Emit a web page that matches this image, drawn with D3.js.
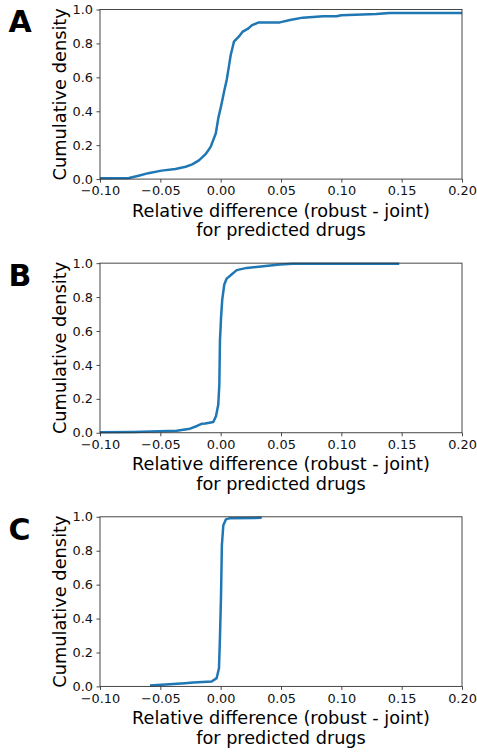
<!DOCTYPE html>
<html>
<head>
<meta charset="utf-8">
<script src="https://cdn.jsdelivr.net/npm/d3@7"></script>
<style>
  html, body { margin: 0; padding: 0; background: #fff; }
  svg { display: block; }
  text { font-family: "DejaVu Sans", sans-serif; }
</style>
</head>
<body>
<svg id="chart" width="477" height="754"></svg>
<script>
// ---- data ----
const panelLetters = ["A", "B", "C"];
const xTicks = [-0.10, -0.05, 0.00, 0.05, 0.10, 0.15, 0.20];
const yTicks = [0.0, 0.2, 0.4, 0.6, 0.8, 1.0];
const xLabelLines = ["Relative difference (robust - joint)", "for predicted drugs"];
const yLabel = "Cumulative density";

const xA = [-0.1, -0.076, -0.068, -0.06, -0.049, -0.0375, -0.029, -0.0236, -0.018, -0.0125, -0.0083, -0.004, -0.002, 0.0005, 0.0028, 0.005, 0.007, 0.0083, 0.011, 0.015, 0.018, 0.023, 0.026, 0.0317, 0.049, 0.0575, 0.068, 0.085, 0.096, 0.1, 0.129, 0.14, 0.2];
const yA = [0.005, 0.006, 0.02, 0.035, 0.05, 0.06, 0.073, 0.087, 0.11, 0.147, 0.19, 0.27, 0.358, 0.436, 0.515, 0.584, 0.672, 0.73, 0.81, 0.84, 0.868, 0.889, 0.908, 0.924, 0.924, 0.938, 0.952, 0.96, 0.96, 0.966, 0.974, 0.98, 0.98];

const xB = [-0.1, -0.0725, -0.0364, -0.0254, -0.0196, -0.0158, -0.0127, -0.0061, -0.0039, -0.002, -0.0011, -0.0006, 0.0003, 0.0013, 0.003, 0.005, 0.009, 0.0133, 0.0216, 0.0354, 0.049, 0.06, 0.148];
const yB = [0.003, 0.005, 0.012, 0.024, 0.04, 0.053, 0.055, 0.063, 0.097, 0.165, 0.283, 0.54, 0.677, 0.785, 0.874, 0.909, 0.933, 0.959, 0.972, 0.982, 0.992, 0.996, 0.996];

const xC = [-0.0586, -0.0296, -0.0227, -0.0075, -0.0033, -0.0014, -0.0006, 0.0003, 0.001, 0.0022, 0.0044, 0.0077, 0.034];
const yC = [0.006, 0.019, 0.023, 0.029, 0.049, 0.107, 0.284, 0.538, 0.832, 0.95, 0.985, 0.992, 0.994];

const seriesX = [xA, xB, xC];
const seriesY = [yA, yB, yC];

// ---- layout ----
const svg = d3.select("#chart");
const left = 100, right = 462, plotH = 169.6, firstTop = 9.5, panelStep = 253.65;
const lineColor = "#1f77b4";
const spineColor = "#333";

const x = d3.scaleLinear().domain([-0.1, 0.2]).range([left, right]);

panelLetters.forEach((letter, i) => {
  const top = firstTop + i * panelStep;
  const bottom = top + plotH;
  const y = d3.scaleLinear().domain([0, 1]).range([bottom, top]);
  const g = svg.append("g");

  // clip
  const clipId = "clip" + i;
  g.append("clipPath").attr("id", clipId)
    .append("rect").attr("x", left).attr("y", top - 3).attr("width", right - left).attr("height", plotH + 6);

  // line
  const pts = seriesX[i].map((v, k) => [v, seriesY[i][k]]);
  g.append("path")
    .datum(pts)
    .attr("clip-path", `url(#${clipId})`)
    .attr("fill", "none")
    .attr("stroke", lineColor)
    .attr("stroke-width", 2.5)
    .attr("stroke-linejoin", "round")
    .attr("stroke-linecap", "butt")
    .attr("d", d3.line().x(d => x(d[0])).y(d => y(d[1])));

  // x axis
  const xAxis = d3.axisBottom(x).tickValues(xTicks).tickSize(3.5).tickPadding(3.5)
    .tickFormat(d => d3.format(".2f")(d).replace("-", "\u2212"));
  const gx = g.append("g").attr("transform", `translate(0,${bottom})`).call(xAxis);
  gx.select(".domain").remove();
  gx.selectAll(".tick line").attr("stroke", spineColor).attr("stroke-width", 0.9);
  gx.selectAll(".tick text").attr("font-size", "12.9px").attr("fill", "#111")
    .attr("font-family", "DejaVu Sans, sans-serif");

  // y axis
  const yAxis = d3.axisLeft(y).tickValues(yTicks).tickSize(3.5).tickPadding(3.5)
    .tickFormat(d3.format(".1f"));
  const gy = g.append("g").attr("transform", `translate(${left},0)`).call(yAxis);
  gy.select(".domain").remove();
  gy.selectAll(".tick line").attr("stroke", spineColor).attr("stroke-width", 0.9);
  gy.selectAll(".tick text").attr("font-size", "12.9px").attr("fill", "#111")
    .attr("font-family", "DejaVu Sans, sans-serif");

  // spines
  g.append("rect")
    .attr("x", left).attr("y", top).attr("width", right - left).attr("height", plotH)
    .attr("fill", "none").attr("stroke", spineColor).attr("stroke-width", 0.9);

  // x label
  const xl = g.append("text")
    .attr("text-anchor", "middle")
    .attr("font-size", "17.7px")
    .attr("fill", "#000");
  xLabelLines.forEach((t, k) => {
    xl.append("tspan").attr("x", (left + right) / 2).attr("y", bottom + 37.5 + k * 19.8).text(t);
  });

  // y label
  g.append("text")
    .attr("transform", `translate(66,${(top + bottom) / 2}) rotate(-90)`)
    .attr("text-anchor", "middle")
    .attr("font-size", "17.8px")
    .attr("fill", "#000")
    .text(yLabel);

  // panel letter
  g.append("text")
    .attr("x", 8.5).attr("y", top + 22.8)
    .attr("font-family", "Liberation Sans, Arial, sans-serif")
    .attr("font-weight", "bold")
    .attr("font-size", "30px")
    .attr("fill", "#000")
    .text(letter);
});
</script>
</body>
</html>
